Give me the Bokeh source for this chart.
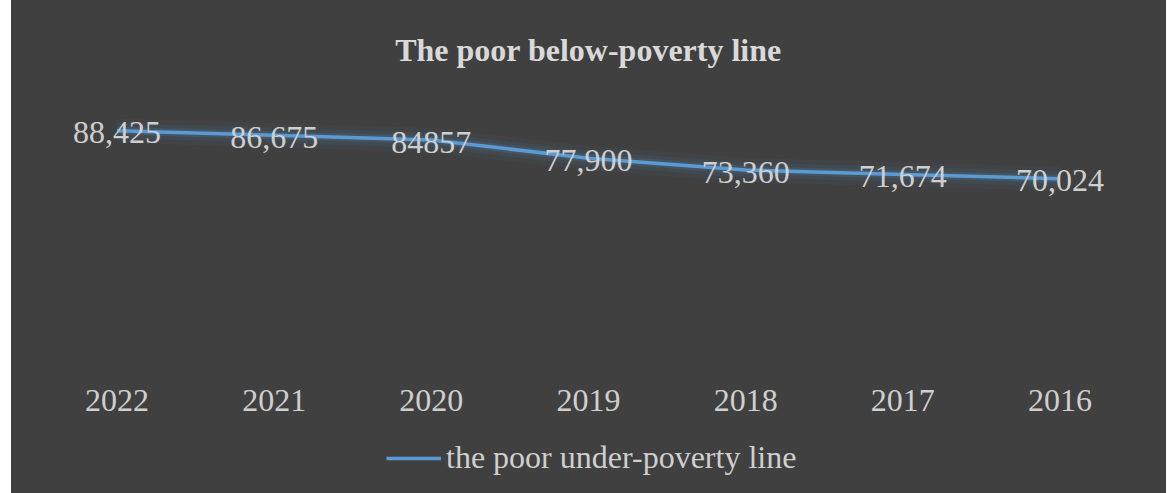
from bokeh.plotting import figure
from bokeh.models import FactorRange, Range1d, Legend, LegendItem, ColumnDataSource
from bokeh.core.properties import value
from bokeh.embed import file_html
from bokeh.resources import INLINE

years = ["2022", "2021", "2020", "2019", "2018", "2017", "2016"]
poor = [88425, 86675, 84857, 77900, 73360, 71674, 70024]
labels = ["88,425", "86,675", "84857", "77,900", "73,360", "71,674", "70,024"]
title_text = "The poor below-poverty line"
series_name = "the poor under-poverty line"

BG = "#404040"
TXT = "#cfcfcf"
TITLE_C = "#d9d9d9"
BLUE = "#5B9BD5"
FONT = "Liberation Serif"

# plot area: value axis 0..100000 spans 261 px, with 124 px extra below zero for labels/legend
Y_MAX = 100000
SPAN_PX, BELOW_PX = 261, 124
y_min = -Y_MAX * BELOW_PX / SPAN_PX

src = ColumnDataSource(dict(x=years, y=poor, lab=labels))

p = figure(frame_width=1100, frame_height=SPAN_PX + BELOW_PX, x_range=FactorRange(*years),
           y_range=Range1d(y_min, Y_MAX),
           output_backend="svg", toolbar_location=None,
           background_fill_color=BG, border_fill_color=BG,
           min_border_left=27, min_border_right=28, min_border_top=86, min_border_bottom=8)
p.styles = {"margin-left": "11px", "margin-top": "-4px", "background-color": BG}

p.title.text = title_text
p.title.text_font = FONT
p.title.text_font_size = "32px"
p.title.text_font_style = "bold"
p.title.text_color = TITLE_C
p.title.align = "center"
p.title.standoff = 66

p.xaxis.fixed_location = 0
p.xaxis.axis_line_color = None
p.xaxis.major_tick_line_color = None
p.xaxis.minor_tick_line_color = None
p.xaxis.major_label_text_font = FONT
p.xaxis.major_label_text_font_size = "32px"
p.xaxis.major_label_text_color = TXT
p.xaxis.major_label_standoff = 22
p.yaxis.visible = False
p.xgrid.grid_line_color = None
p.ygrid.grid_line_color = None
p.outline_line_color = None
p.outline_line_alpha = 0
p.outline_line_width = 0

p.line("x", "y", source=src, line_width=24, color=BLUE, alpha=0.05)
p.line("x", "y", source=src, line_width=15, color=BLUE, alpha=0.07)
p.line("x", "y", source=src, line_width=8, color=BLUE, alpha=0.12)
main = p.line("x", "y", source=src, line_width=3.5, color=BLUE)

p.text(x="x", y="y", text="lab", source=src, text_align="center", text_baseline="middle",
       text_font=value(FONT), text_font_size="32px", text_color=TXT, y_offset=2)

legend = Legend(items=[LegendItem(label=series_name, renderers=[main])],
                orientation="horizontal", location=(348, 9),
                background_fill_color=BG, background_fill_alpha=1.0,
                border_line_color=None, label_text_font=FONT,
                label_text_font_size="32px", label_text_color=TXT,
                glyph_width=55, label_standoff=5, padding=10, margin=0)
p.add_layout(legend, "center")

open("out.html", "w").write(file_html(p, INLINE))
